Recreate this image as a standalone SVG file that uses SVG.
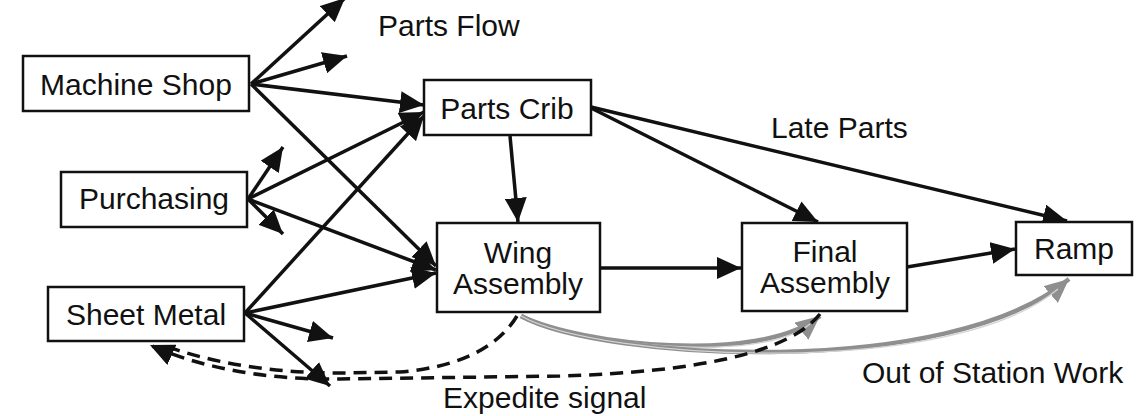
<svg xmlns="http://www.w3.org/2000/svg" width="1144" height="416" viewBox="0 0 1144 416">
  <style>
    .box { fill: #fff; stroke: #111; stroke-width: 2.5; }
    .lbl { font-family: "Liberation Sans", Arial, sans-serif; font-size: 30px; fill: #111; }
    .mid { text-anchor: middle; }
    .flow { fill: none; stroke: #111; stroke-width: 3.5; marker-end: url(#ah); }
    .dash { fill: none; stroke: #111; stroke-width: 3.5; stroke-dasharray: 13 8; }
    .grey { fill: none; stroke: #8f8f8f; stroke-width: 4.5; }
    .greyin { fill: none; stroke: #d4d4d4; stroke-width: 1.3; }
  </style>
  <defs>
    <marker id="ah" markerUnits="userSpaceOnUse" markerWidth="26" markerHeight="22" refX="24" refY="11" orient="auto">
      <path d="M0,0 L24,11 L0,22 z" fill="#111"/>
    </marker>
    <marker id="ahg" markerUnits="userSpaceOnUse" markerWidth="26" markerHeight="22" refX="24" refY="11" orient="auto">
      <path d="M0,0 L24,11 L0,22 z" fill="#8f8f8f"/>
    </marker>
  </defs>
  <rect width="1144" height="416" fill="#fff"/>

  <g id="connectors">
    <!-- Machine Shop -->
    <line class="flow" x1="251" y1="84" x2="345" y2="-2"/>
    <line class="flow" x1="251" y1="84" x2="347" y2="56"/>
    <line class="flow" x1="251" y1="84" x2="424" y2="105"/>
    <line class="flow" x1="251" y1="84" x2="436" y2="266"/>
    <!-- Purchasing -->
    <line class="flow" x1="248" y1="199" x2="283" y2="147"/>
    <line class="flow" x1="248" y1="199" x2="283" y2="234"/>
    <line class="flow" x1="248" y1="199" x2="424" y2="112"/>
    <line class="flow" x1="248" y1="199" x2="436" y2="270"/>
    <!-- Sheet Metal -->
    <line class="flow" x1="245" y1="313" x2="424" y2="116"/>
    <line class="flow" x1="245" y1="313" x2="436" y2="273"/>
    <line class="flow" x1="245" y1="313" x2="333" y2="338"/>
    <line class="flow" x1="245" y1="313" x2="330" y2="386"/>
    <!-- Parts Crib -->
    <line class="flow" x1="510" y1="136" x2="518" y2="222"/>
    <line class="flow" x1="591" y1="108" x2="818" y2="222"/>
    <line class="flow" x1="591" y1="107" x2="1067" y2="221"/>
    <!-- Assembly line -->
    <line class="flow" x1="600" y1="268" x2="741" y2="268"/>
    <line class="flow" x1="907" y1="267" x2="1015" y2="249"/>
    <!-- Out of station work (grey) -->
    <path class="grey" d="M521,316 C580,345 760,365 820,316" marker-end="url(#ahg)"/>
    <path class="greyin" d="M521,316 C580,345 760,365 810,324"/>
    <path class="grey" d="M521,316 C600,360 950,380 1069,279" marker-end="url(#ahg)"/>
    <path class="greyin" d="M521,316 C600,360 950,380 1058,289"/>
    <!-- Expedite signal (dashed) -->
    <path class="dash" d="M820,314 C790,352 700,372 560,376 L340,379 C280,380 210,372 150,345" marker-end="url(#ah)"/>
    <path class="dash" d="M517,316 C495,352 450,368 400,372 L340,373 C280,373 215,365 160,344"/>
  </g>

  <g id="machine-shop">
    <rect class="box" x="23" y="56" width="226" height="55"/>
    <text class="lbl mid" x="136" y="95">Machine Shop</text>
  </g>
  <g id="purchasing">
    <rect class="box" x="61" y="172" width="186" height="55"/>
    <text class="lbl mid" x="154" y="209">Purchasing</text>
  </g>
  <g id="sheet-metal">
    <rect class="box" x="48" y="287" width="196" height="54"/>
    <text class="lbl mid" x="146" y="325">Sheet Metal</text>
  </g>
  <g id="parts-crib">
    <rect class="box" x="424" y="80" width="167" height="55"/>
    <text class="lbl mid" x="507" y="119">Parts Crib</text>
  </g>
  <g id="wing-assembly">
    <rect class="box" x="437" y="223" width="163" height="89"/>
    <text class="lbl mid" x="518" y="263">Wing</text>
    <text class="lbl mid" x="518" y="294">Assembly</text>
  </g>
  <g id="final-assembly">
    <rect class="box" x="742" y="223" width="165" height="88"/>
    <text class="lbl mid" x="825" y="262">Final</text>
    <text class="lbl mid" x="825" y="293">Assembly</text>
  </g>
  <g id="ramp">
    <rect class="box" x="1016" y="222" width="116" height="53"/>
    <text class="lbl mid" x="1074" y="259">Ramp</text>
  </g>

  <g id="labels">
    <text class="lbl" x="378" y="36">Parts Flow</text>
    <text class="lbl" x="771" y="138">Late Parts</text>
    <text class="lbl" x="862" y="383">Out of Station Work</text>
    <text class="lbl" x="443" y="408">Expedite signal</text>
  </g>
</svg>
